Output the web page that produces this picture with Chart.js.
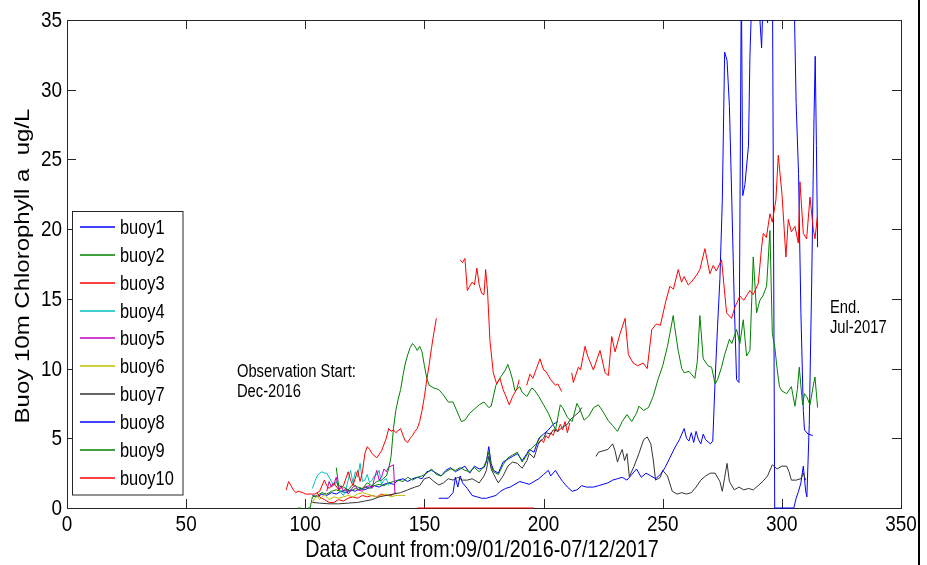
<!DOCTYPE html>
<html>
<head>
<meta charset="utf-8">
<script src="https://cdn.jsdelivr.net/npm/chart.js@4"></script>
<style>
  html, body { margin: 0; padding: 0; background: #fff; }
  #wrap { width: 927px; height: 565px; }
</style>
</head>
<body>
<div id="wrap"><canvas id="chl" width="927" height="565"></canvas></div>
<script>
// chlorophyll a at 10 m, one point per data count (day); null = no data
const buoy1 = [[103,0.9],[105,0.8],[107,1.0],[109,0.9],[111,1.1],[113,1.0],[115,1.2],[117,1.1],[119,1.3],[121,1.2],[123,1.4],[125,1.3],[127,1.5],[129,1.6],[131,1.5],[133,1.7],[135,1.8],[137,1.7],[139,2.0],[141,2.1],[143,1.9],[145,2.1],[147,2.2],[149,2.1],[151,2.6],[153,2.7],[155,2.5],[157,2.3],[159,2.7],[161,2.9],[163,2.6],[165,2.8],[167,3.0],[169,2.5],[171,3.0],[173,2.8],[175,2.9],[176,3.3],[177,4.4],[178,3.2],[179,2.7],[181,2.5],[183,3.3],[185,3.5],[187,3.7],[189,3.9],[191,3.4],[193,3.9],[194,4.2],[196,4.0],[198,5.0],[200,5.3],[202,5.6],[204,6.0],[206,6.2],[207,null],
  [296,40],[297,0],[299,0],[301,0],[303,0],[305,0],[306,0.7],[307,1.2],[308,1.8],[309,3.0],[310,1.2],[310.5,0.8],[311.5,6],[312.5,16],[313.5,28],[314,32.4],[314.5,26],[315,18.7]];
const buoy2 = [[97,0],[98,0],[99,null],[101,0],[102,0],[103,0.8],[105,0.9],[107,1.1],[109,1.0],[111,1.2],[113,1.3],[115,1.2],[117,1.3],[119,1.2],[121,1.4],[123,1.3],[125,1.5],[127,1.4],[129,1.6],[131,1.7],[133,1.6],[135,1.8],[137,1.9],[139,2.0],[141,1.9],[143,2.2],[145,2.0],[147,2.2],[149,2.3],[151,2.5],[153,2.8],[155,2.4],[157,2.3],[159,2.6],[161,2.8],[163,2.7],[165,2.9],[167,2.7],[169,2.6],[171,2.9],[173,2.6],[175,3.0],[176,3.4],[177,4.0],[178,3.0],[179,2.6],[181,2.4],[183,3.1],[185,3.6],[187,3.8],[189,4.0],[191,3.3],[193,3.8],[195,4.3],[197,4.6],[199,5.2]];
const buoy3 = [[105,1.1],[106,0.8],[108,0.6],[110,0.4],[112,0.4],[114,0.6],[116,0.5],[118,0.7],[120,0.8],[122,0.7],[124,0.9],[126,0.8],[128,0.9],[130,0.8],[132,1.0],[134,0.9],[136,0.9],[138,1.1],[139,null],
  [147,0],[196,0],[197,null],[198,4.6],[199,4.9],[200,4.7],[201,5.2],[202,5.0],[203,5.4],[204,5.2],[205,5.7],[206,5.5],[207,6.0],[208,5.6],[209,6.2],[210,5.4],[211,6.1]];
const buoy4 = [[103,1.4],[104,1.9],[105,2.3],[106,2.5],[107,2.6],[108,2.5],[109,2.5],[110,2.2],[111,1.9],[112,1.6],[113,1.9],[114,1.5],[115,1.1],[116,0.9],[117,1.3],[118,2.0],[119,2.7],[120,1.8],[121,2.6],[122,2.2],[123,3.2],[124,1.9],[125,2.0],[126,2.4],[127,1.8],[128,2.0],[129,2.3],[130,2.4],[131,2.7],[132,1.7],[133,2.0],[134,2.1],[135,1.6]];
const buoy5 = [[109,1.2],[110,1.9],[111,1.5],[112,1.7],[113,2.2],[114,1.3],[115,1.6],[116,1.2],[117,1.4],[118,1.0],[120,1.5],[121,1.6],[122,1.3],[124,1.2],[125,1.5],[127,1.6],[128,1.4],[129,2.1],[130,2.7],[131,2.0],[132,2.2],[133,2.8],[134,2.6],[135,2.95],[136,3.0],[137,3.1],[137.6,1.1],[138,1.0]];
const buoy6 = [[103,0.4],[104,0.7],[105,0.9],[106,0.6],[107,0.8],[108,1.0],[109,0.8],[110,0.6],[112,0.8],[114,0.7],[116,0.8],[118,0.9],[120,0.8],[122,1.0],[124,1.1],[126,1.0],[128,0.9],[130,0.8],[132,0.9],[134,1.0],[136,0.8],[138,0.9],[140,0.9],[142,0.9]];
const buoy7 = [[103,0.4],[106,0.35],[110,0.3],[114,0.3],[118,0.35],[122,0.4],[125,0.5],[128,0.6],[131,0.8],[134,0.9],[137,1.0],[140,1.1],[143,1.3],[146,1.5],[148,1.6],[150,2.1],[152,2.2],[154,1.9],[156,1.65],[158,1.8],[160,2.1],[162,2.0],[164,2.2],[166,2.0],[168,2.0],[170,2.1],[172,1.9],[173,1.8],[175,2.3],[176,2.7],[177,3.7],[178,2.8],[180,2.1],[181,1.8],[183,2.3],[185,3.0],[187,3.3],[189,3.2],[191,2.85],[193,3.4],[194,3.9],[196,3.6],[198,4.7],[200,5.0],[201,5.4],[203,5.3],[204,5.6],[206,5.5],[208,5.8],[210,6.0],[211,6.3],[213,6.6],[215,6.9],[216,7.2],[217,null],
  [222,3.7],[223,4.0],[225,4.1],[227,4.2],[229,4.6],[230,4.1],[231,3.3],[232,3.8],[233,4.2],[234,3.4],[235,3.9],[236,2.25],[238,3.0],[240,3.9],[242,4.9],[243.5,5.1],[245,4.6],[246,3.5],[247,2.0],[249,2.2],[250,2.7],[252,2.3],[254,1.2],[256,1.0],[258,1.1],[260,1.0],[262,1.1],[264,1.5],[266,2.0],[268,2.3],[270,2.5],[272,2.5],[274,1.9],[275,1.2],[276,2.2],[277,3.2],[278,1.9],[280,1.3],[282,1.5],[284,1.3],[286,1.4],[288,1.3],[290,1.6],[292,1.9],[294,2.3],[296,3.1],[298,2.8],[300,3.0],[302,3.0],[303,2.6],[304,2.0],[306,2.0],[308,2.1],[309,2.5],[310,2.0]];
const buoy8 = [[156,0.7],[158,0.7],[160,0.7],[162,1.1],[163,2.2],[164,1.5],[165,2.3],[166,1.8],[168,1.4],[170,0.9],[172,0.8],[174,0.7],[176,0.7],[178,0.8],[180,0.9],[182,1.2],[184,1.4],[186,1.5],[188,1.7],[190,1.9],[192,1.8],[194,1.7],[196,1.9],[198,2.1],[200,2.4],[202,2.7],[203,2.3],[205,2.7],[206,2.4],[208,1.9],[210,1.5],[212,1.2],[214,1.3],[216,1.6],[218,1.5],[221,1.5],[223,1.6],[225,1.7],[227,1.8],[229,2.0],[231,2.1],[233,2.2],[235,2.0],[237,2.4],[239,2.8],[241,2.2],[243,2.5],[245,2.3],[247,2.1],[249,2.4],[251,2.9],[253,3.6],[255,4.3],[257,4.9],[259,5.7],[260,5.0],[261,4.8],[262,5.4],[263,4.7],[264,5.5],[265,4.9],[266,4.6],[267,5.3],[268,4.9],[270,4.6],[271,4.8],[272,9.2],[273,13],[274,16.4],[275,22],[276,32.7],[277,32.1],[278,28.8],[279,22],[280,14.9],[281,9.2],[282,9.0],[283,38],[283.6,22.4],[284.5,23.2],[286,26],[286.6,32.4],[288,40],[290,38],[290.8,35],[291.5,33],[292.2,37],[293.5,36],[294,34.8],[295,40],[300,42],[305,38],[306,29],[307,24],[307.6,18],[308,14],[309,7],[309.5,5.6],[311,5.3],[313,5.2]];
const buoy9 = [[113,2.9],[114,1.6],[116,1.5],[118,1.3],[120,1.7],[122,1.5],[124,1.4],[126,1.8],[128,1.6],[130,1.9],[132,2.0],[134,2.3],[135,2.8],[136,3.7],[137,5.7],[138,7.0],[139,7.8],[140,8.5],[141,9.5],[142,10.4],[143,11.0],[144,11.5],[145,11.8],[146,11.6],[147,11.3],[148,11.6],[149,11.2],[150,10.2],[151,9.3],[152,8.8],[154,8.6],[156,8.5],[158,8.1],[160,7.6],[162,7.6],[164,6.8],[165.5,6.2],[167,6.3],[169,6.8],[171,7.1],[173,7.4],[175,7.6],[177,7.2],[178,7.3],[180,8.8],[182,9.4],[184,9.9],[185,10.3],[186,9.8],[187,9.2],[188,8.4],[190,8.7],[191,8.3],[193,8.0],[195,8.6],[196,8.5],[198,8.0],[200,7.4],[202,6.8],[204,6.0],[205,5.6],[207,7.4],[208,7.2],[210,6.5],[212,6.2],[214,7.5],[215,7.2],[217,6.3],[219,6.6],[221,7.2],[223,7.4],[225,6.9],[227,6.3],[229,5.9],[231,5.5],[233,6.2],[235,6.7],[237,6.2],[239,6.8],[240,7.3],[242,7.0],[244,7.2],[246,8.0],[248,9.2],[250,10.2],[252,11.6],[253,12.5],[254.4,13.8],[255,13.0],[256.5,11.3],[258,10.0],[259,9.7],[261,9.8],[262,9.6],[263.5,9.3],[264.5,10.5],[265.6,13.8],[267,10.7],[269,10.2],[270.5,10.1],[272,8.9],[273,9.2],[274.7,10.1],[276,11],[278,12.1],[279,11.8],[281,12.8],[282.4,11.8],[283.8,13.5],[285.2,10.9],[286.6,11.3],[288,18.0],[289.4,14.0],[290.8,14.9],[292,15.2],[293.6,15.9],[295,19.9],[296,12.5],[297,11.6],[298,10.0],[299,8.7],[300,8.4],[302,8.2],[304,8.7],[305.5,7.3],[306.5,8.5],[307.3,10.1],[308.7,7.4],[309.5,8.2],[310.4,8.0],[311.8,7.4],[313,8.6],[313.9,9.4],[315,7.2]];
const buoy10 = [[92,1.3],[93,1.9],[94,1.6],[95,1.3],[96,1.1],[97,1.2],[99,1.1],[100,1.0],[102,1.0],[104,1.0],[106,1.2],[108,2.0],[109,1.6],[110,1.4],[112,1.8],[114,1.3],[116,1.6],[118,2.6],[119,2.0],[120,1.6],[122,2.7],[123,1.9],[124,2.6],[125,3.9],[126,4.4],[127,4.2],[128,3.9],[130,3.6],[132,4.1],[134,5.0],[135,5.7],[136,5.5],[137,5.6],[138,5.4],[140,5.7],[141,5.2],[142,4.8],[143,4.7],[144,5.0],[145,5.2],[146,5.5],[147,5.7],[148,6.2],[149,7.0],[150,8.0],[151,9.2],[152,10.3],[153,11.5],[154,12.6],[155,13.6],[156,null],
  [165,17.8],[166,17.6],[167,17.9],[168,15.6],[169,15.9],[170,16.2],[171,16.0],[172,17.2],[173,16.0],[174,15.4],[175,15.3],[175.7,17.1],[176.5,15.5],[177.5,12.0],[178.9,9.7],[180.3,8.9],[181.7,9.3],[183,8.5],[184,8.1],[185.6,7.4],[187,8.0],[188.7,8.5],[189.8,9.2],[190.5,null],
  [192.9,8.8],[194.3,9.6],[195.5,9.3],[197,10.0],[198.5,10.7],[200,9.9],[201,9.8],[203,9.2],[205,8.8],[206,8.9],[207.6,8.35],[208.5,null],
  [211.8,9.7],[212.5,9.0],[214.6,10.1],[215.5,9.9],[217.4,11.6],[218.5,10.9],[220.9,9.9],[223.7,11.3],[225.8,9.7],[227.2,9.5],[228.6,12.3],[230,11.2],[232.1,12.5],[234.2,13.6],[235.6,11.0],[237.6,10.4],[239.5,10.2],[241.8,10.4],[243.5,10.0],[245.4,12.8],[247.4,13.2],[249,13.1],[251.4,14.9],[253,15.9],[254.5,15.7],[256.5,17.1],[257.9,16.2],[259,16.6],[260.7,16.0],[262,16.2],[264.2,16.7],[265.6,17.1],[267.7,18.6],[269.8,16.8],[271.2,17.4],[272.5,17.0],[274.7,17.8],[276.8,14.0],[278.9,13.6],[280.3,14.4],[282.4,15.2],[284,14.9],[286.6,15.6],[288,15.3],[290.1,16.1],[291.5,18.7],[292.2,19.7],[293.5,19.4],[295,21.1],[296,20.5],[297.5,22.1],[298.5,25.3],[300.1,22.4],[301.7,18.0],[302.7,20.7],[304,19.8],[305.5,20.2],[306.9,19.0],[307.6,23.4],[309,19.7],[310.4,19.3],[311.8,22.3],[313.2,20.0],[313.9,19.3],[314.9,20.9]];

const buoySeries = [buoy1, buoy2, buoy3, buoy4, buoy5, buoy6, buoy7, buoy8, buoy9, buoy10];
const buoyNames = ['buoy1', 'buoy2', 'buoy3', 'buoy4', 'buoy5', 'buoy6', 'buoy7', 'buoy8', 'buoy9', 'buoy10'];
// matlab default line colour order
const buoyColors = ['#0000ff', '#008000', '#ff0000', '#00bfbf', '#bf00bf', '#bfbf00', '#333333', '#0000ff', '#008000', '#ff0000'];

const xTicks = [0, 50, 100, 150, 200, 250, 300, 350];
const yTicks = [0, 5, 10, 15, 20, 25, 30, 35];
const xTitle = 'Data Count from:09/01/2016-07/12/2017';
const yTitle = 'Buoy 10m Chlorophyll a  ug/L';

const notes = [
  { x: 71.3, y: 9.0, lines: ['Observation Start:', 'Dec-2016'] },
  { x: 320.2, y: 13.6, lines: ['End.', 'Jul-2017'] }
];

const FONT = "'Liberation Sans', Arial, Helvetica, sans-serif";
const SQUEEZE = 0.82; // the figure was saved narrower than it was drawn

const datasets = buoySeries.map((pts, i) => ({
  label: buoyNames[i],
  data: pts.map(p => ({ x: p[0], y: p[1] })),
  borderColor: buoyColors[i],
  backgroundColor: buoyColors[i],
  borderWidth: 1,
  pointRadius: 0,
  tension: 0,
  spanGaps: false,
  clip: { left: 1, top: 0, right: 1, bottom: 2 }, // zero readings stay visible on the axis
  order: buoySeries.length - i   // later buoys on top, like matlab
}));

function squeezed(ctx, text, x, y, align, baseline, sx = SQUEEZE) {
  ctx.save();
  ctx.translate(x, y);
  ctx.scale(sx, 1);
  ctx.textAlign = align;
  ctx.textBaseline = baseline;
  ctx.fillText(text, 0, 0);
  ctx.restore();
}

// axes box with inward ticks, drawn under the lines
const axesBox = {
  id: 'axesBox',
  beforeDatasetsDraw(chart) {
    const { ctx, chartArea: a, scales: { x, y } } = chart;
    ctx.save();
    ctx.strokeStyle = '#262626';
    ctx.lineWidth = 1;
    ctx.strokeRect(a.left + 0.5, a.top + 0.5, a.right - a.left, a.bottom - a.top);
    ctx.beginPath();
    xTicks.forEach(v => {
      const px = Math.round(x.getPixelForValue(v)) + 0.5;
      ctx.moveTo(px, a.bottom); ctx.lineTo(px, a.bottom - 9);
      ctx.moveTo(px, a.top); ctx.lineTo(px, a.top + 9);
    });
    yTicks.forEach(v => {
      const py = Math.round(y.getPixelForValue(v)) + 0.5;
      ctx.moveTo(a.left, py); ctx.lineTo(a.left + 9, py);
      ctx.moveTo(a.right, py); ctx.lineTo(a.right - 9, py);
    });
    ctx.stroke();
    ctx.restore();
  }
};

// tick labels, titles, legend and notes
const figureText = {
  id: 'figureText',
  afterDraw(chart) {
    const { ctx, chartArea: a, scales: { x, y } } = chart;
    ctx.save();
    ctx.fillStyle = '#000';

    ctx.font = '22px ' + FONT;
    xTicks.forEach(v => squeezed(ctx, String(v), x.getPixelForValue(v), 531, 'center', 'alphabetic', 0.86));
    yTicks.forEach(v => squeezed(ctx, String(v), a.left - 5, y.getPixelForValue(v) + 1, 'right', 'middle', 0.86));

    ctx.font = '24px ' + FONT;
    squeezed(ctx, xTitle, (a.left + a.right) / 2 - 2, 557, 'center', 'alphabetic');

    // y label, squeezed across its height
    ctx.save();
    ctx.translate(24, (a.top + a.bottom) / 2 + 2);
    ctx.rotate(-Math.PI / 2);
    ctx.scale(1, SQUEEZE);
    ctx.font = '24px ' + FONT;
    ctx.textAlign = 'center';
    ctx.textBaseline = 'middle';
    ctx.fillText(yTitle, 0, 0);
    ctx.restore();

    // legend box
    const lx = 72.5, ly = 211.5, lw = 110.5, lh = 283.5;
    ctx.fillStyle = '#fff';
    ctx.fillRect(lx, ly, lw, lh);
    ctx.strokeStyle = '#262626';
    ctx.lineWidth = 1;
    ctx.strokeRect(lx, ly, lw, lh);
    ctx.font = '20px ' + FONT;
    buoyNames.forEach((name, i) => {
      const ry = Math.round(227 + i * 27.85);
      ctx.strokeStyle = buoyColors[i];
      ctx.lineWidth = 1.4;
      ctx.beginPath();
      ctx.moveTo(80, ry); ctx.lineTo(115, ry);
      ctx.stroke();
      ctx.fillStyle = '#000';
      squeezed(ctx, name, 120, ry + 1, 'left', 'middle');
    });

    // text notes
    ctx.font = '18px ' + FONT;
    ctx.fillStyle = '#000';
    notes.forEach(n => {
      const px = x.getPixelForValue(n.x);
      const py = y.getPixelForValue(n.y);
      n.lines.forEach((t, k) => squeezed(ctx, t, px, py - 10 + k * 20, 'left', 'middle'));
    });

    // figure edge on the right
    ctx.fillStyle = '#000';
    ctx.fillRect(918, 0, 2, 565);
    ctx.restore();
  }
};

new Chart(document.getElementById('chl'), {
  type: 'line',
  data: { datasets },
  options: {
    responsive: false,
    animation: false,
    devicePixelRatio: 1,
    layout: { padding: { left: 0, right: 26, top: 20, bottom: 0 } },
    plugins: { legend: { display: false }, tooltip: { enabled: false } },
    scales: {
      x: {
        type: 'linear',
        min: 0,
        max: 350,
        afterBuildTicks: s => { s.ticks = xTicks.map(v => ({ value: v })); },
        afterFit: s => { s.height = 57; },
        grid: { display: false, drawTicks: false },
        border: { display: false },
        ticks: { display: false }
      },
      y: {
        min: 0,
        max: 35,
        afterBuildTicks: s => { s.ticks = yTicks.map(v => ({ value: v })); },
        afterFit: s => { s.width = 67; },
        grid: { display: false, drawTicks: false },
        border: { display: false },
        ticks: { display: false }
      }
    }
  },
  plugins: [axesBox, figureText]
});
</script>
</body>
</html>
